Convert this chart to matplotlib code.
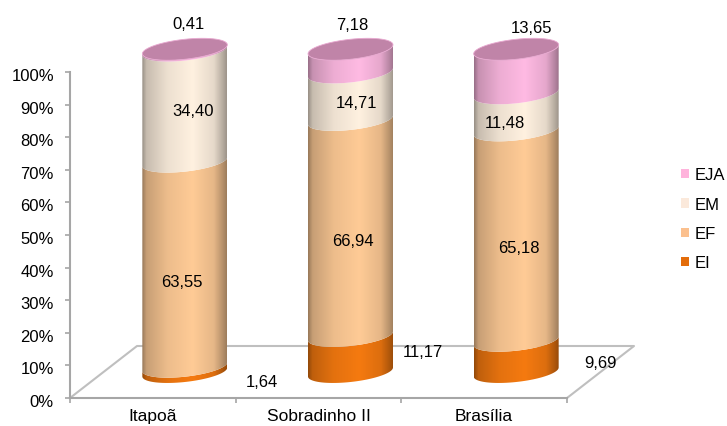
# Stacked 100% cylinders, faux 3D floor
import numpy as np
import matplotlib
matplotlib.use('Agg')
import matplotlib.pyplot as plt
from matplotlib.colors import LinearSegmentedColormap
from matplotlib.patches import Patch, PathPatch, Polygon
from matplotlib.path import Path
from matplotlib.transforms import ScaledTranslation

categories = ['Itapoã', 'Sobradinho II', 'Brasília']
ei = [1.64, 11.17, 9.69]
ef = [63.55, 66.94, 65.18]
em = [34.40, 14.71, 11.48]
eja = [0.41, 7.18, 13.65]
series_names = ['EI', 'EF', 'EM', 'EJA']
yticks = [0, 10, 20, 30, 40, 50, 60, 70, 80, 90, 100]

legend_colors = ['#E36C0A', '#FBC08E', '#FBE9DB', '#FFB3DC']
body_colors = ['#F57A10', '#FFCB96', '#FFF1E0', '#FFBAE3']
top_color = '#C084A8'
axis_color = '#A6A6A6'

# label shift from the middle of each segment, in pixels (one row per series)
label_dx = [[77, 72, 84], [-3, 2, 3], [8, 6, -11], [4, 2, 15]]
label_dy = [[-12, 2, -6], [-17, -13, -12], [-4, -6, -11], [26, 36, 44]]

W, H = 727, 427
LEFT, RIGHT, BOTTOM, TOP = 70, 567, 399, 73
PX_X = (RIGHT - LEFT) / 3
PX_Y = (BOTTOM - TOP) / 100

# cylinder geometry, in data units
X_SHIFT = 32 / PX_X
Y_SHIFT = 26 / PX_Y
HALF_W = 42.5 / PX_X
B = 10 / PX_Y
SHEAR = 4.5 / PX_Y
STACK = 0.99  # the stack is a bit shorter than the axis in the perspective

plt.rcParams['font.family'] = ['Liberation Sans', 'DejaVu Sans']
plt.rcParams['font.size'] = 12

fig = plt.figure(figsize=(W / 100, H / 100), dpi=100)
ax = fig.add_axes([LEFT / W, 1 - BOTTOM / H, (RIGHT - LEFT) / W, (BOTTOM - TOP) / H])


def arc(cx, cy, start, end):
    t = np.linspace(start, end, 60)
    return np.column_stack([cx + HALF_W * np.cos(t), cy + B * np.sin(t) + SHEAR * np.cos(t)])


def shade(color):
    rgb = np.array(matplotlib.colors.to_rgb(color))
    stops = [(0, 0.60), (0.05, 0.78), (0.3, 0.93), (0.6, 1), (0.85, 0.9), (0.95, 0.72), (1, 0.62)]
    return LinearSegmentedColormap.from_list('c', [(p, tuple(rgb * f)) for p, f in stops])


gradient = np.linspace(0, 1, 128).reshape(1, -1)
data = np.array([ei, ef, em, eja])
cum = np.vstack([np.zeros(3), np.cumsum(data, axis=0)]) * STACK

for c in range(len(categories)):
    cx = c + 0.5 + X_SHIFT
    for s in range(len(series_names)):
        y0 = cum[s, c] + Y_SHIFT
        y1 = cum[s + 1, c] + Y_SHIFT
        # front of the segment: lower arc at y0, back along the lower arc at y1
        pts = np.vstack([arc(cx, y0, np.pi, 2 * np.pi), arc(cx, y1, 2 * np.pi, np.pi)])
        im = ax.imshow(gradient, cmap=shade(body_colors[s]), aspect='auto', zorder=3 + s,
                       extent=[cx - HALF_W, cx + HALF_W, y0 - 2 * B, y1 + 2 * B])
        # cylinders rise above the 100% line, so the image must not stop at the axes box
        im.set_clip_box(fig.bbox)
        im.set_clip_path(PathPatch(Path(pts), transform=ax.transData))

        tx = (cum[s, c] + cum[s + 1, c]) / 2 + Y_SHIFT
        ax.annotate(f'{data[s, c]:.2f}'.replace('.', ','), (cx, tx),
                    xytext=(label_dx[s][c] * 0.72, label_dy[s][c] * 0.72),
                    textcoords='offset points', ha='center', va='center',
                    color='black', zorder=20, annotation_clip=False)
    # lid
    ax.add_patch(Polygon(arc(cx, cum[-1, c] + Y_SHIFT, 0, 2 * np.pi), closed=True, facecolor=top_color,
                         edgecolor='#E8A8D0', linewidth=0.6, zorder=10, clip_on=False))

# floor outline
dx = 67 / PX_X
dy = 52 / PX_Y
ax.plot([0, dx, 3 + dx, 3], [0, dy, dy, 0], color='#BFBFBF', lw=1.5, clip_on=False, zorder=1)

ax.set_xlim(0, 3)
ax.set_ylim(0, 100)
for side in ['top', 'right']:
    ax.spines[side].set_visible(False)
for side in ['left', 'bottom']:
    ax.spines[side].set_color(axis_color)
    ax.spines[side].set_linewidth(1.5)
ax.set_yticks(yticks)
ax.set_yticklabels([f'{v}%' for v in yticks])
ax.set_xticks([0, 1, 2, 3])
ax.set_xticklabels([])
ax.set_xticks([0.5, 1.5, 2.5], labels=categories, minor=True)
ax.tick_params(axis='x', which='major', length=3.6, width=1.2, color=axis_color)
ax.tick_params(axis='x', which='minor', length=0, pad=7.5, labelsize=12.5)
ax.tick_params(axis='y', length=3.6, width=1.2, color=axis_color, pad=8)
ax.patch.set_alpha(0)

# y labels sit a little under their ticks
nudge = ScaledTranslation(0, -2 / 100, fig.dpi_scale_trans)
for lab in ax.get_yticklabels():
    lab.set_transform(lab.get_transform() + nudge)

handles = [Patch(facecolor=legend_colors[i], label=series_names[i]) for i in [3, 2, 1, 0]]
fig.legend(handles=handles, loc='center left', bbox_to_anchor=(681 / W, 1 - 220 / H), frameon=False,
           borderpad=0, borderaxespad=0, handlelength=0.48, handleheight=0.48, handletextpad=0.33,
           labelspacing=0.86, fontsize=12)

fig.savefig('out.png', dpi=100)
